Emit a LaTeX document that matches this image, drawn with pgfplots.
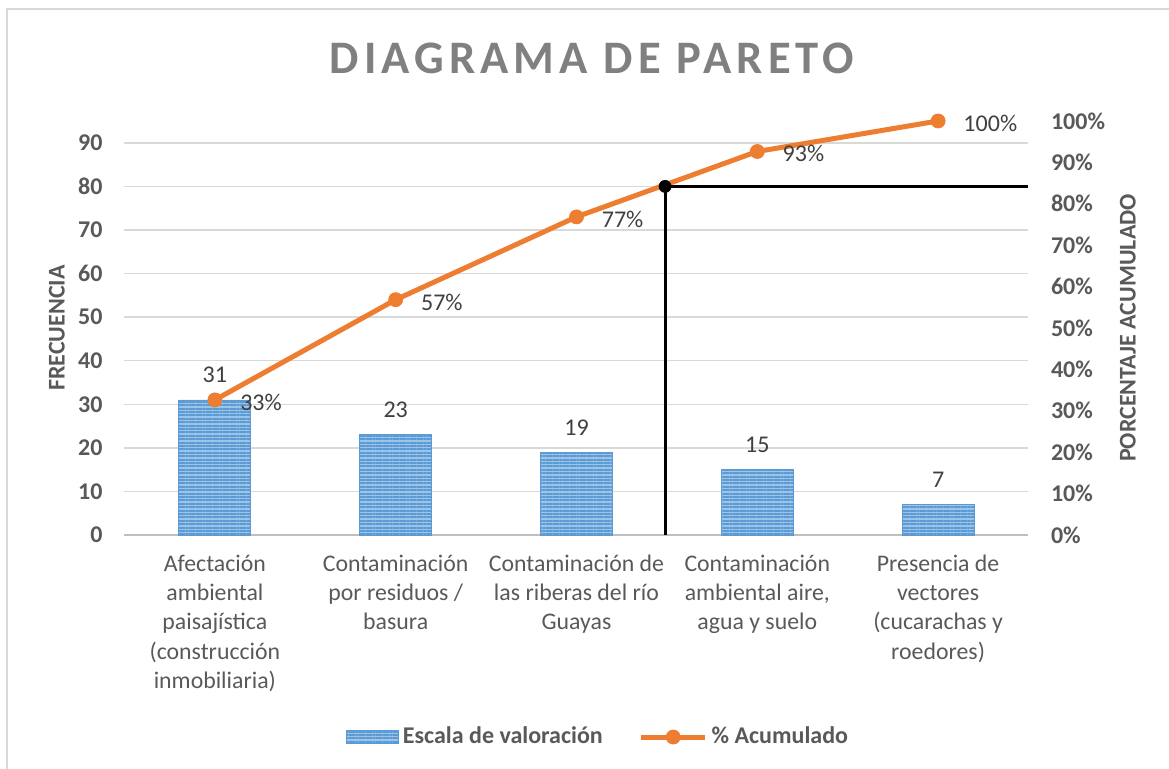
\documentclass[border=0pt]{standalone}
\usepackage{pgfplots}
\pgfplotsset{compat=1.18}
\usepackage{fontspec}
\setmainfont{Carlito}
\usetikzlibrary{patterns.meta}

\definecolor{barblue}{HTML}{5B9BD5}
\definecolor{barlight}{HTML}{9DC3E6}
\definecolor{accorange}{HTML}{ED7D31}
\definecolor{txtgray}{HTML}{595959}
\definecolor{lblgray}{HTML}{404040}
\definecolor{titlegray}{HTML}{808080}
\definecolor{gridgray}{HTML}{D9D9D9}
\definecolor{basegray}{HTML}{BFBFBF}

\pgfplotsset{
  barstyle/.style={fill=barlight, draw=barblue, line width=0.4pt,
    postaction={pattern={Lines[angle=0,distance=1.7pt,line width=1pt]}, pattern color=barblue}},
  barlegend/.style={legend image code/.code={\draw[##1] (0pt,-3.25pt) rectangle (26pt,3.25pt);}},
  linelegend/.style={legend image code/.code={\draw[mark repeat=2,mark phase=2,##1] plot coordinates {(0pt,0pt) (16pt,0pt) (32pt,0pt)};}},
}

\begin{document}
\begin{tikzpicture}
\useasboundingbox (0pt,0pt) rectangle (584.5pt,384.5pt);
\draw[gridgray, line width=0.8pt] (3.5pt,0pt) -- (3.5pt,380pt) -- (584.5pt,380pt);
\node[anchor=base, font=\fontsize{23.3}{28}\selectfont\bfseries\addfontfeatures{LetterSpace=11}, text=titlegray]
  at (296pt,347.5pt) {DIAGRAMA DE PARETO};

% frecuencias (eje izquierdo)
\begin{axis}[
  at={(62.25pt,117pt)}, anchor=south west,
  scale only axis, width=452pt, height=207pt,
  xmin=-0.5, xmax=4.5, ymin=0, ymax=95,
  ybar, bar width=36pt,
  xtick=data,
  xticklabels={{Afectación\\ambiental\\paisajística\\(construcción\\inmobiliaria)},
    {Contaminación\\por residuos /\\basura},
    {Contaminación de\\las riberas del río\\Guayas},
    {Contaminación\\ambiental aire,\\agua y suelo},
    {Presencia de\\vectores\\(cucarachas y\\roedores)}},
  ytick={0,10,...,90},
  ymajorgrids, grid style={gridgray, line width=0.75pt},
  axis x line*=bottom, axis y line*=left,
  x axis line style={basegray, line width=1.25pt, -},
  y axis line style={draw=none},
  major tick length=0pt, tick style={draw=none},
  /pgf/number format/assume math mode=true,
  yticklabel style={font=\fontsize{12}{14}\selectfont\bfseries, text=txtgray, xshift=-7.5pt},
  xticklabel style={font=\fontsize{11.9}{14.6}\selectfont, text=txtgray, align=center, anchor=north, yshift=-6.5pt},
  nodes near coords,
  every node near coord/.append style={font=\fontsize{12}{14}\selectfont, text=lblgray, anchor=base, yshift=8.5pt, inner sep=0pt},
  clip=false,
]
\addplot[barstyle] coordinates {(0,31) (1,23) (2,19) (3,15) (4,7)};
\node[rotate=90, font=\fontsize{12}{14}\selectfont\bfseries, text=txtgray] at (axis description cs:-0.0747,0.5) {FRECUENCIA};
\end{axis}

% porcentaje acumulado (eje derecho)
\begin{axis}[
  at={(62.25pt,117pt)}, anchor=south west,
  scale only axis, width=452pt, height=207pt,
  xmin=-0.5, xmax=4.5, ymin=0, ymax=100,
  axis x line=none, axis y line*=right,
  y axis line style={draw=none},
  major tick length=0pt, tick style={draw=none},
  ytick={0,10,...,100},
  yticklabel={\pgfmathprintnumber{\tick}\%},
  /pgf/number format/assume math mode=true,
  yticklabel style={font=\fontsize{12}{14}\selectfont\bfseries, text=txtgray, xshift=7.75pt},
  clip=false,
  legend style={at={(0.525,-0.488)}, anchor=center, draw=none, legend columns=2,
    font=\fontsize{12}{14}\selectfont\bfseries, text=txtgray,
    /tikz/every even column/.append style={column sep=16pt}},
]
\addlegendimage{barstyle, barlegend}
\addlegendentry{Escala de valoración}
\addplot[accorange, line width=2.5pt, mark=*, mark size=3.5pt, mark options={line width=0.4pt},
  nodes near coords={\pgfmathprintnumber[fixed,precision=0]{\pgfplotspointmeta}\%},
  every node near coord/.style={anchor=base west, xshift=12.5pt, yshift=-5.25pt, inner sep=0pt,
    font=\fontsize{12}{14}\selectfont, text=lblgray},
  linelegend]
  coordinates {(0,32.63) (1,56.84) (2,76.84) (3,92.63) (4,100)};
\addlegendentry{\% Acumulado}
\addplot[black, line width=1.5pt, forget plot] coordinates {(2.49,0) (2.49,84.2) (4.5,84.2)};
\addplot[black, only marks, mark=*, mark size=3pt, forget plot] coordinates {(2.49,84.2)};
\node[rotate=90, font=\fontsize{12}{14}\selectfont\bfseries, text=txtgray] at (axis description cs:1.110,0.5) {PORCENTAJE ACUMULADO};
\end{axis}
\end{tikzpicture}
\end{document}
